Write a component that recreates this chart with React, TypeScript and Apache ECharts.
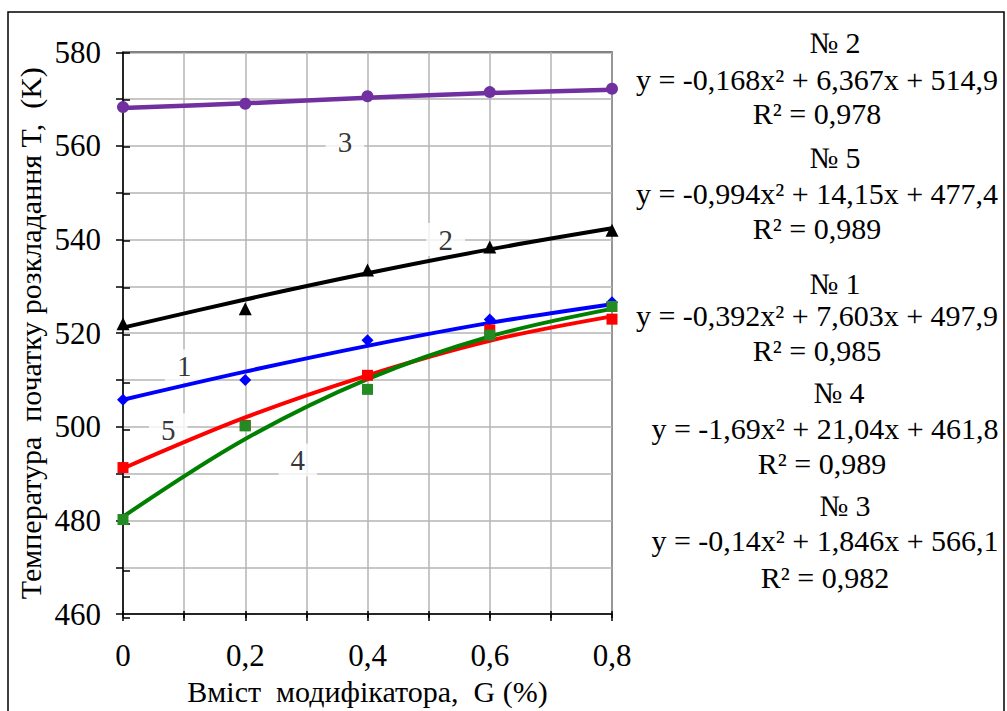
import React, { useEffect, useRef } from "react";
import * as echarts from "echarts";

const xValues = [0, 0.2, 0.4, 0.6, 0.8];

// measured points (markers)
const pts1 = [505.8, 510.0, 518.5, 522.9, 526.6];
const pts2 = [522.0, 525.2, 533.5, 538.4, 542.0];
const pts3 = [568.3, 569.0, 570.6, 571.5, 572.2];
const pts4 = [480.2, 500.2, 508.0, 519.6, 525.7];
const pts5 = [491.3, 500.3, 511.0, 520.7, 523.0];

// trend lines
const trend1 = [505.8, 511.8, 517.3, 522.2, 526.2];
const trend2 = [521.2, 527.2, 532.8, 537.9, 542.4];
const trend3 = [568.1, 569.1, 570.3, 571.3, 572.0];
const trend4 = [480.8, 497.4, 510.2, 519.3, 525.2];
const trend5 = [491.1, 502.0, 511.0, 518.4, 523.6];

// curve number labels [x, y, text]
const curveLabels: [number, number, string][] = [
  [0.363, 560.8, "3"],
  [0.528, 540.0, "2"],
  [0.1, 513.0, "1"],
  [0.074, 499.4, "5"],
  [0.286, 492.9, "4"],
];

// equation texts [text, centerX, centerY]
const equationTexts: [string, number, number][] = [
  ["№ 2", 835, 42],
  ["y = -0,168x² + 6,367x + 514,9", 817, 79],
  ["R² = 0,978", 817, 113],
  ["№ 5", 835, 157],
  ["y = -0,994x² + 14,15x + 477,4", 817, 193],
  ["R² = 0,989", 817, 228],
  ["№ 1", 835, 283],
  ["y = -0,392x² + 7,603x + 497,9", 817, 315],
  ["R² = 0,985", 817, 350],
  ["№ 4", 839, 392],
  ["y = -1,69x² + 21,04x + 461,8", 825, 428],
  ["R² = 0,989", 822, 463],
  ["№ 3", 845, 505],
  ["y = -0,14x² + 1,846x + 566,1", 825, 540],
  ["R² = 0,982", 825, 577],
];

const xTitle = "Вміст  модифікатора,  G (%)";
const yTitle = "Температура  початку розкладання T,  (K)";

const FONT = "Liberation Serif";

const zip = (ys: number[]) => xValues.map((x, i) => [x, ys[i]]);

export default function App() {
  const ref = useRef<HTMLDivElement>(null);
  useEffect(() => {
    document.body.style.margin = "0";
    const chart = echarts.init(ref.current!, undefined, { renderer: "svg" });
    const gridPos = { left: 123, right: 395, top: 52.3, bottom: 93 };
    const fmtX = (v: number) => {
      const k = Math.round(v * 10);
      if (k % 2 !== 0) return "";
      return k === 0 ? "0" : (k / 10).toFixed(1).replace(".", ",");
    };
    const fmtY = (v: number) => (Math.round(v) % 20 === 0 ? String(Math.round(v)) : "");
    const lineSeries = (data: number[], color: string, w = 4) => ({
      type: "line",
      data: zip(data),
      smooth: 0.35,
      symbol: "none",
      lineStyle: { color, width: w },
      z: 3,
      silent: true,
    });
    const markerSeries = (data: number[], color: string, symbol: string, size: number) => ({
      type: "scatter",
      data: zip(data),
      symbol,
      symbolSize: size,
      itemStyle: { color, opacity: 1 },
      z: 4,
    });
    const option: any = {
      animation: false,
      backgroundColor: "#fff",
      textStyle: { fontFamily: FONT },
      grid: [
        { ...gridPos, show: true, borderColor: "#000", borderWidth: 1.5, containLabel: false },
        { ...gridPos, show: false, containLabel: false },
      ],
      xAxis: [
        {
          type: "value",
          gridIndex: 0,
          min: 0,
          max: 0.8,
          interval: 0.1,
          axisLine: { show: true, lineStyle: { color: "#000", width: 1.5 } },
          axisTick: { show: true, length: 7, lineStyle: { color: "#000", width: 1.5 } },
          axisLabel: {
            formatter: fmtX,
            fontSize: 31,
            fontFamily: FONT,
            color: "#000",
            margin: 26,
            showMaxLabel: true,
            showMinLabel: true,
          },
          splitLine: { show: true, lineStyle: { color: "#b4b4b4", width: 1.5 } },
          name: xTitle,
          nameLocation: "middle",
          nameGap: 59,
          nameTextStyle: { fontSize: 30, fontFamily: FONT, color: "#000" },
        },
        {
          type: "value",
          gridIndex: 1,
          min: 0,
          max: 0.8,
          interval: 0.1,
          axisLine: { show: false },
          axisTick: { show: true, inside: true, length: 7, lineStyle: { color: "#000", width: 1.5 } },
          axisLabel: { show: false },
          splitLine: { show: false },
        },
      ],
      yAxis: [
        {
          type: "value",
          gridIndex: 0,
          min: 460,
          max: 580,
          interval: 10,
          axisLine: { show: true, lineStyle: { color: "#000", width: 1.5 } },
          axisTick: { show: true, length: 7, lineStyle: { color: "#000", width: 1.5 } },
          axisLabel: {
            formatter: fmtY,
            fontSize: 31,
            fontFamily: FONT,
            color: "#000",
            margin: 22,
          },
          splitLine: { show: true, lineStyle: { color: "#b4b4b4", width: 1.5 } },
          name: yTitle,
          nameLocation: "middle",
          nameGap: 78,
          nameTextStyle: { fontSize: 30, fontFamily: FONT, color: "#000" },
        },
        {
          type: "value",
          gridIndex: 1,
          min: 460,
          max: 580,
          interval: 10,
          axisLine: { show: false },
          axisTick: { show: true, inside: true, length: 7, lineStyle: { color: "#000", width: 1.5 } },
          axisLabel: { show: false },
          splitLine: { show: false },
        },
      ],
      series: [
        {
          type: "scatter",
          data: curveLabels.map((c) => ({ value: [c[0], c[1]], name: c[2] })),
          symbolSize: 1,
          itemStyle: { color: "rgba(0,0,0,0)" },
          label: {
            show: true,
            position: "inside",
            formatter: (p: any) => p.name,
            fontSize: 29,
            fontFamily: FONT,
            color: "#000",
            backgroundColor: "#fff",
            padding: [3, 12, 1, 12],
          },
          z: 2,
          silent: true,
        },
        lineSeries(trend3, "#7030A0", 4.5),
        lineSeries(trend2, "#000000"),
        lineSeries(trend1, "#0000FF"),
        lineSeries(trend5, "#FF0000"),
        lineSeries(trend4, "#008000"),
        markerSeries(pts3, "#7030A0", "circle", 12),
        markerSeries(pts2, "#000000", "triangle", 13),
        markerSeries(pts1, "#0000FF", "diamond", 12),
        markerSeries(pts5, "#FF0000", "rect", 11),
        markerSeries(pts4, "#228B22", "rect", 11),
      ],
      graphic: [
        {
          type: "rect",
          shape: { x: 8, y: 12, width: 996, height: 720 },
          style: { fill: "none", stroke: "#000", lineWidth: 1.5 },
          silent: true,
          z: 10,
        },
        ...equationTexts.map((t) => ({
          type: "text",
          x: t[1],
          y: t[2],
          style: {
            text: t[0],
            fontSize: 30,
            fontFamily: FONT,
            fill: "#000",
            align: "center",
            verticalAlign: "middle",
          },
          silent: true,
        })),
      ],
    };
    chart.setOption(option);
    return () => chart.dispose();
  }, []);
  return <div ref={ref} style={{ width: 1007, height: 711 }} />;
}
